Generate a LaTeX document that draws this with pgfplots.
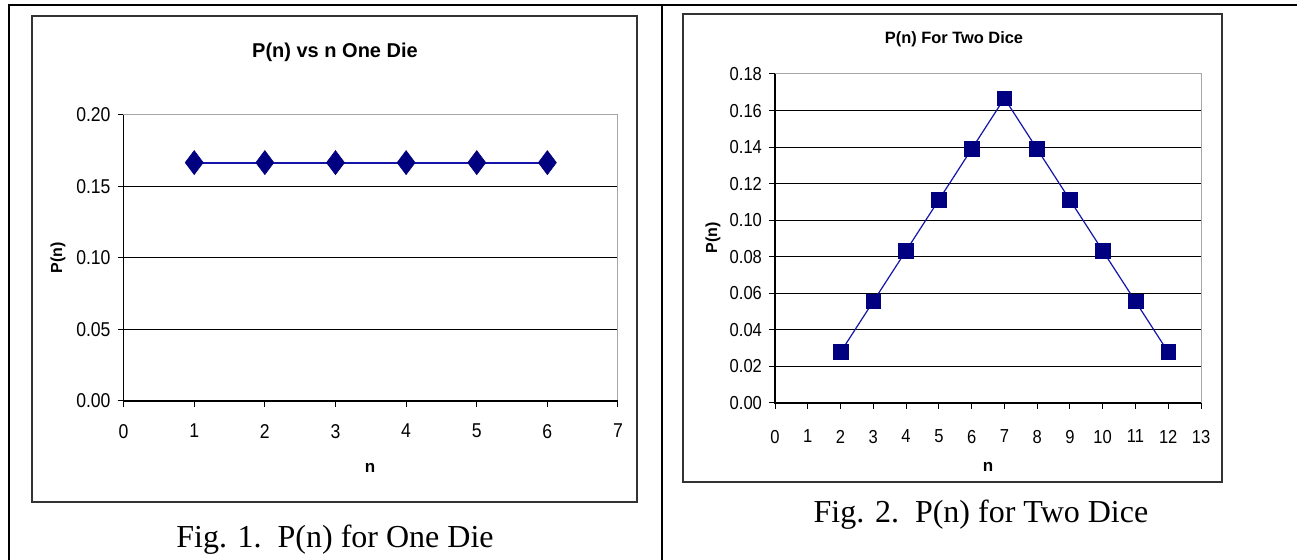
\documentclass[border=0pt]{standalone}
\usepackage{fontspec}
\setmainfont{Liberation Sans}
\newfontfamily\capfont{Liberation Serif}
\newfontfamily\condfont[FakeStretch=0.88]{Liberation Sans}
\usepackage{pgfplots}
\pgfplotsset{compat=1.18}
\definecolor{navy}{RGB}{0,0,128}
\definecolor{navyline}{RGB}{20,20,170}

\pgfplotsset{chart/.style={
  scale only axis,
  axis line style={draw=gray!70, line width=0.5pt},
  ymajorgrids,
  grid style={black, line width=0.5pt},
  tick pos=left,
  tick align=outside,
  major tick length=3pt,
  tick style={black, line width=0.5pt},
  /pgf/number format/assume math mode=true,
  yticklabel style={/pgf/number format/fixed, /pgf/number format/fixed zerofill, /pgf/number format/precision=2},
  clip=false,
}}

\begin{document}
\begin{tikzpicture}
\useasboundingbox (0pt,0pt) rectangle (648.5pt,280pt);
\fill[white] (0pt,0pt) rectangle (648.5pt,280pt);
% table rules
\draw[line width=1.3pt] (4.5pt,0pt) -- (4.5pt,277.5pt) -- (648.5pt,277.5pt);
\draw[line width=1.3pt] (331pt,0pt) -- (331pt,277.5pt);
% chart frames
\draw[line width=0.8pt, black!80] (16pt,29pt) rectangle (318.5pt,272pt);
\draw[line width=0.8pt, black!80] (341.5pt,39pt) rectangle (611pt,273pt);

% ---------- Left chart ----------
\begin{axis}[chart, at={(61.8pt,79.5pt)}, anchor=south west,
  width=247.2pt, height=143pt,
  xmin=0, xmax=7, ymin=0, ymax=0.2,
  xtick={0,1,2,3,4,5,6,7},
  ytick={0,0.05,0.1,0.15,0.2},
  ticklabel style={font=\condfont\fontsize{10}{11}\selectfont},
  xticklabel style={yshift=-5pt},
]
\addplot[navyline, line width=0.9pt, mark=diamond*, mark size=6pt,
  mark options={draw=navy, fill=navy, line width=0.3pt}]
  coordinates {(1,0.1667) (2,0.1667) (3,0.1667) (4,0.1667) (5,0.1667) (6,0.1667)};
\draw[black, line width=0.6pt] (rel axis cs:0,1) -- (rel axis cs:0,0) -- (rel axis cs:1,0);
\end{axis}
\node[font=\bfseries\fontsize{10}{12}\selectfont] at (167.5pt,254pt) {P(n) vs n One Die};
\node[rotate=90, font=\bfseries\fontsize{8}{9}\selectfont] at (29pt,151pt) {P(n)};
\node[font=\bfseries\fontsize{8.5}{9}\selectfont] at (185pt,46pt) {n};
\node[font=\capfont\fontsize{16}{18}\selectfont] at (167.5pt,10pt) {Fig. 1.\ \ P(n) for One Die};

% ---------- Right chart ----------
\begin{axis}[chart, at={(387.5pt,78.5pt)}, anchor=south west,
  width=213pt, height=164.5pt,
  xmin=0, xmax=13, ymin=0, ymax=0.18,
  xtick={0,1,2,3,4,5,6,7,8,9,10,11,12,13},
  ytick={0,0.02,0.04,0.06,0.08,0.1,0.12,0.14,0.16,0.18},
  ticklabel style={font=\condfont\fontsize{9.4}{10}\selectfont},
  xticklabel style={yshift=-7pt},
]
\addplot[navyline, line width=0.6pt, mark=square*, mark size=3.7pt,
  mark options={draw=navy, fill=navy, line width=0.3pt}]
  coordinates {(2,0.0278) (3,0.0556) (4,0.0833) (5,0.1111) (6,0.1389) (7,0.1667)
               (8,0.1389) (9,0.1111) (10,0.0833) (11,0.0556) (12,0.0278)};
\draw[black, line width=0.6pt] (rel axis cs:0,1) -- (rel axis cs:0,0) -- (rel axis cs:1,0);
\end{axis}
\node[font=\bfseries\fontsize{8.2}{10}\selectfont] at (477pt,260.5pt) {P(n) For Two Dice};
\node[rotate=90, font=\bfseries\fontsize{8}{9}\selectfont] at (356.5pt,161pt) {P(n)};
\node[font=\bfseries\fontsize{8.5}{9}\selectfont] at (494pt,46.5pt) {n};
\node[font=\capfont\fontsize{16}{18}\selectfont] at (490.5pt,22.5pt) {Fig. 2.\ \ P(n) for Two Dice};
\end{tikzpicture}
\end{document}
